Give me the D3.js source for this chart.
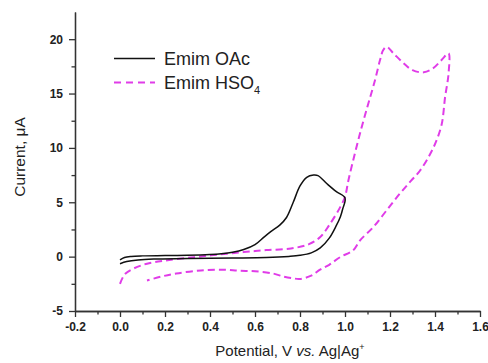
<!DOCTYPE html>
<html>
<head>
<meta charset="utf-8">
<script src="https://cdn.jsdelivr.net/npm/d3@7"></script>
<style>
  body { margin: 0; background: #fff; }
  svg { display: block; font-family: Arial, "Liberation Sans", sans-serif; }
  .axis path, .axis line { stroke: #333; stroke-width: 1.3; }
  .axis text { font-size: 12px; font-weight: bold; fill: #222; }
</style>
</head>
<body>
<div class="cv-plot-container"></div>
<script>
// Emim OAc: anodic branch then cathodic return (potential V, current uA)
const oacV = [0, 0.02, 0.05, 0.1, 0.2, 0.3, 0.4, 0.45, 0.5, 0.55, 0.6, 0.64, 0.67, 0.71, 0.74, 0.77, 0.8, 0.83, 0.86, 0.88, 0.92, 0.96, 1.0,
  0.99, 0.98, 0.96, 0.93, 0.89, 0.85, 0.8, 0.75, 0.65, 0.5, 0.3, 0.15, 0.08, 0.03, 0];
const oacI = [-0.3, -0.08, 0.02, 0.07, 0.1, 0.13, 0.2, 0.27, 0.4, 0.65, 1.1, 1.8, 2.3, 2.9, 3.6, 5.0, 6.5, 7.3, 7.5, 7.45, 6.7, 6.0, 5.4,
  4.4, 3.7, 2.8, 1.7, 0.8, 0.35, 0.12, 0.02, -0.08, -0.13, -0.18, -0.22, -0.3, -0.45, -0.65];

// Emim HSO4
const hsoV = [0, 0.022, 0.06, 0.12, 0.2, 0.33, 0.44, 0.55, 0.65, 0.76, 0.84, 0.89, 0.93, 0.98, 1.0, 1.015, 1.044, 1.074, 1.104, 1.133, 1.156, 1.17, 1.185, 1.215, 1.26, 1.3, 1.35, 1.39, 1.43, 1.46,
  1.46, 1.445, 1.43, 1.405, 1.375, 1.333, 1.29, 1.244, 1.185, 1.126, 1.067, 1.036, 0.978, 0.93, 0.889, 0.85, 0.8, 0.77, 0.73, 0.68, 0.6, 0.53, 0.46, 0.36, 0.25, 0.18, 0.12];
const hsoI = [-2.5, -1.6, -1.1, -0.65, -0.36, -0.05, 0.2, 0.42, 0.6, 0.75, 1.15, 1.8, 2.9, 4.6, 5.5, 7.0, 9.5, 11.9, 14.1, 16.2, 18.1, 19.0, 19.3, 18.7, 17.8, 17.15, 16.95, 17.3, 18.1, 18.7,
  16.8, 14.7, 12.2, 10.6, 9.3, 7.9, 6.9, 5.8, 4.26, 2.72, 1.5, 0.58, -0.05, -0.75, -1.2, -1.75, -2.05, -2.0, -1.85, -1.55, -1.35, -1.3, -1.2, -1.27, -1.55, -1.85, -2.2];

const xTicks = [-0.2, 0.0, 0.2, 0.4, 0.6, 0.8, 1.0, 1.2, 1.4, 1.6];
const yTicks = [-5, 0, 5, 10, 15, 20];
const legendLabels = ['Emim OAc', 'Emim HSO'];

const width = 488, height = 363;
const margin = {top: 12, right: 8, bottom: 52, left: 75};

// plain hyphen for negatives, like the original figure
const locale = d3.formatLocale({decimal: '.', thousands: ',', grouping: [3], currency: ['', ''], minus: '-'});

const svg = d3.select('.cv-plot-container').append('svg')
  .attr('width', width)
  .attr('height', height);

const xScale = d3.scaleLinear().domain([-0.2, 1.6]).range([margin.left, width - margin.right]);
const yScale = d3.scaleLinear().domain([-5, 22.5]).range([height - margin.bottom, margin.top]);

// minor ticks first, major axes on top
svg.append('g')
  .attr('class', 'axis')
  .attr('transform', 'translate(0,' + yScale(-5) + ')')
  .call(d3.axisBottom(xScale).tickValues(d3.range(-0.1, 1.6, 0.2)).tickSize(3.5).tickSizeOuter(0).tickFormat(''));
svg.append('g')
  .attr('class', 'axis')
  .attr('transform', 'translate(' + xScale(-0.2) + ',0)')
  .call(d3.axisLeft(yScale).tickValues(d3.range(-2.5, 22.5, 5)).tickSize(3.5).tickSizeOuter(0).tickFormat(''));

svg.append('g')
  .attr('class', 'axis')
  .attr('transform', 'translate(0,' + yScale(-5) + ')')
  .call(d3.axisBottom(xScale).tickValues(xTicks).tickSize(6).tickPadding(5.5).tickSizeOuter(0).tickFormat(locale.format('.1f')));
svg.append('g')
  .attr('class', 'axis')
  .attr('transform', 'translate(' + xScale(-0.2) + ',0)')
  .call(d3.axisLeft(yScale).tickValues(yTicks).tickSize(6).tickPadding(6).tickSizeOuter(0).tickFormat(locale.format('d')));

// axis titles
svg.append('text')
  .attr('x', 290).attr('y', 356)
  .style('text-anchor', 'middle')
  .style('font-size', '15px')
  .style('fill', '#222')
  .call(t => {
    t.append('tspan').text('Potential, V ');
    t.append('tspan').style('font-style', 'italic').text('vs.');
    t.append('tspan').text(' Ag|Ag');
    t.append('tspan').attr('dy', -6).style('font-size', '9px').text('+');
  });

svg.append('text')
  .attr('transform', 'translate(25,157) rotate(-90)')
  .style('text-anchor', 'middle')
  .style('font-size', '15.5px')
  .style('fill', '#222')
  .text('Current, \u03bcA');

// curves
const line = d3.line()
  .x(d => xScale(d[0]))
  .y(d => yScale(d[1]))
  .curve(d3.curveCatmullRom.alpha(0.5));

svg.append('path')
  .datum(hsoV.map((v, i) => [v, hsoI[i]]))
  .attr('d', line)
  .attr('fill', 'none')
  .attr('stroke', '#e03ce8')
  .attr('stroke-width', 2)
  .attr('stroke-dasharray', '7,4');

svg.append('path')
  .datum(oacV.map((v, i) => [v, oacI[i]]))
  .attr('d', line)
  .attr('fill', 'none')
  .attr('stroke', '#111')
  .attr('stroke-width', 1.5);

// legend
const legend = svg.append('g').attr('class', 'legend');
legend.append('line')
  .attr('x1', 114).attr('x2', 155).attr('y1', 58.5).attr('y2', 58.5)
  .attr('stroke', '#111').attr('stroke-width', 1.5);
legend.append('text')
  .attr('x', 164).attr('y', 65)
  .style('font-size', '18px').style('fill', '#222')
  .text(legendLabels[0]);
legend.append('line')
  .attr('x1', 114).attr('x2', 155).attr('y1', 82.5).attr('y2', 82.5)
  .attr('stroke', '#e03ce8').attr('stroke-width', 2).attr('stroke-dasharray', '7,5');
legend.append('text')
  .attr('x', 164).attr('y', 89)
  .style('font-size', '18px').style('fill', '#222')
  .call(t => {
    t.append('tspan').text(legendLabels[1]);
    t.append('tspan').attr('dy', 5).style('font-size', '11px').text('4');
  });
</script>
</body>
</html>
